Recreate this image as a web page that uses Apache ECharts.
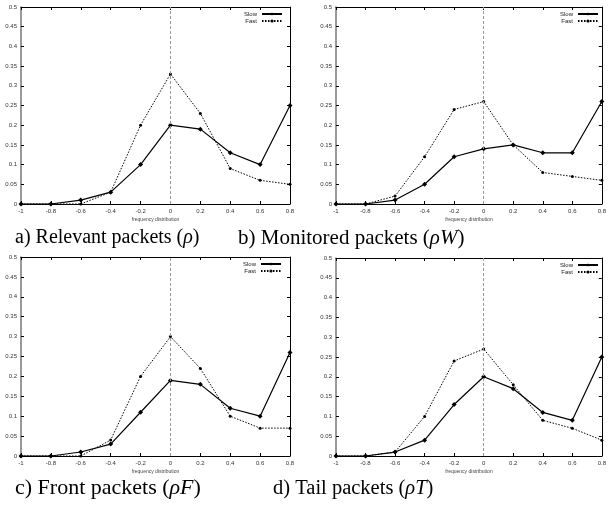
<!DOCTYPE html>
<html><head><meta charset="utf-8">
<script src="https://cdn.jsdelivr.net/npm/echarts@6/dist/echarts.min.js"></script>
<style>html,body{margin:0;padding:0;background:#fff}#c{width:609px;height:508px}</style>
</head><body><div id="c"></div>
<script>
const xValues = [-1, -0.8, -0.6, -0.4, -0.2, 0, 0.2, 0.4, 0.6, 0.8];
const slowA = [0, 0, 0.01, 0.03, 0.10, 0.20, 0.19, 0.13, 0.10, 0.25];
const fastA = [0, 0, 0, 0.03, 0.20, 0.33, 0.23, 0.09, 0.06, 0.05];
const slowB = [0, 0, 0.01, 0.05, 0.12, 0.14, 0.15, 0.13, 0.13, 0.26];
const fastB = [0, 0, 0.02, 0.12, 0.24, 0.26, 0.15, 0.08, 0.07, 0.06];
const slowC = [0, 0, 0.01, 0.03, 0.11, 0.19, 0.18, 0.12, 0.10, 0.26];
const fastC = [0, 0, 0, 0.04, 0.20, 0.30, 0.22, 0.10, 0.07, 0.07];
const slowD = [0, 0, 0.01, 0.04, 0.13, 0.20, 0.17, 0.11, 0.09, 0.25];
const fastD = [0, 0, 0.01, 0.10, 0.24, 0.27, 0.18, 0.09, 0.07, 0.04];
const seriesNames = ['Slow', 'Fast'];
const xAxisTitle = 'frequency distribution';
const captions = [
  ['a) Relevant packets (', 'ρ', ')'],
  ['b) Monitored packets (', 'ρW', ')'],
  ['c) Front packets (', 'ρF', ')'],
  ['d) Tail packets (', 'ρT', ')']
];
const panels = [[slowA, fastA], [slowB, fastB], [slowC, fastC], [slowD, fastD]];

const grids = [
  {left: 21, top: 7, width: 269, height: 197},
  {left: 336, top: 7, width: 269, height: 197},
  {left: 21, top: 257, width: 269, height: 199},
  {left: 336, top: 258, width: 269, height: 198}
];
const legendPos = [
  {right: 326, top: 11},
  {right: 10, top: 11},
  {right: 327, top: 261},
  {right: 10, top: 262}
];
const capPos = [[15, 228], [238, 228], [15, 477], [273, 478]];
const capSize = [20, 21, 22, 20.5];

const lblFont = {fontFamily: 'Liberation Sans', fontSize: 6, color: '#333'};
const xAxes = [], yAxes = [], series = [], legends = [], graphics = [];
grids.forEach((g, i) => {
  const baseX = {
    type: 'value', gridIndex: i, min: -1, max: 0.8, interval: 0.2,
    splitLine: {show: false},
    axisLine: {show: true, onZero: false, lineStyle: {color: '#000', width: 1}},
    axisTick: {show: true, inside: true, length: 3, lineStyle: {color: '#000'}}
  };
  xAxes.push(Object.assign({}, baseX, {
    position: 'bottom',
    axisLabel: Object.assign({margin: 4, formatter: v => String(Math.round(v * 10) / 10)}, lblFont),
    name: xAxisTitle, nameLocation: 'middle', nameGap: 13,
    nameTextStyle: {fontFamily: 'Liberation Sans', fontSize: 5, color: '#444'}
  }));
  xAxes.push(Object.assign({}, baseX, {position: 'top', axisLabel: {show: false}}));
  const baseY = {
    type: 'value', gridIndex: i, min: 0, max: 0.5, interval: 0.05,
    splitLine: {show: false},
    axisTick: {show: true, inside: true, length: 3, lineStyle: {color: '#000'}}
  };
  yAxes.push(Object.assign({}, baseY, {
    position: 'left',
    axisLine: {show: true, onZero: false, lineStyle: {color: '#777', width: 1.5}},
    axisLabel: Object.assign({margin: 4, formatter: v => String(Math.round(v * 100) / 100)}, lblFont)
  }));
  yAxes.push(Object.assign({}, baseY, {
    position: 'right',
    axisLine: {show: true, onZero: false, lineStyle: {color: '#000', width: 1}},
    axisLabel: {show: false}
  }));
  const [slow, fast] = panels[i];
  series.push({
    name: seriesNames[0], type: 'line', xAxisIndex: 2 * i, yAxisIndex: 2 * i,
    data: xValues.map((x, k) => [x, slow[k]]),
    symbol: 'diamond', symbolSize: 5, showSymbol: true,
    lineStyle: {color: '#000', width: 1.2}, itemStyle: {color: '#000'},
    animation: false, z: 3,
    markLine: {
      silent: true, symbol: 'none', label: {show: false},
      lineStyle: {color: '#999', type: [3, 2], width: 1},
      data: [{xAxis: 0}]
    }
  });
  series.push({
    name: seriesNames[1], type: 'line', xAxisIndex: 2 * i, yAxisIndex: 2 * i,
    data: xValues.map((x, k) => [x, fast[k]]),
    symbol: 'circle', symbolSize: 3, showSymbol: true,
    lineStyle: {color: '#000', width: 1, type: [1.5, 1.5]}, itemStyle: {color: '#000'},
    animation: false, z: 3
  });
  legends.push(Object.assign({
    orient: 'vertical', align: 'right', itemWidth: 20, itemHeight: 4, itemGap: 1,
    padding: 0, selectedMode: false,
    textStyle: {fontFamily: 'Liberation Sans', fontSize: 6, color: '#222', padding: [0, 0, 0, 0]},
    data: seriesNames
  }, legendPos[i]));
  const [cx, cy] = capPos[i];
  const fs = capSize[i];
  graphics.push({
    type: 'text', left: cx, top: cy, silent: true,
    style: {
      text: '{n|' + captions[i][0] + '}{it|' + captions[i][1] + '}{n|' + captions[i][2] + '}',
      rich: {
        n: {fontFamily: 'Liberation Serif', fontSize: fs, fill: '#000'},
        it: {fontFamily: 'Liberation Serif', fontStyle: 'italic', fontSize: fs, fill: '#000'}
      }
    }
  });
});

const chart = echarts.init(document.getElementById('c'));
chart.setOption({
  animation: false,
  backgroundColor: '#fff',
  grid: grids,
  xAxis: xAxes,
  yAxis: yAxes,
  legend: legends,
  series: series,
  graphic: graphics
});
</script></body></html>
